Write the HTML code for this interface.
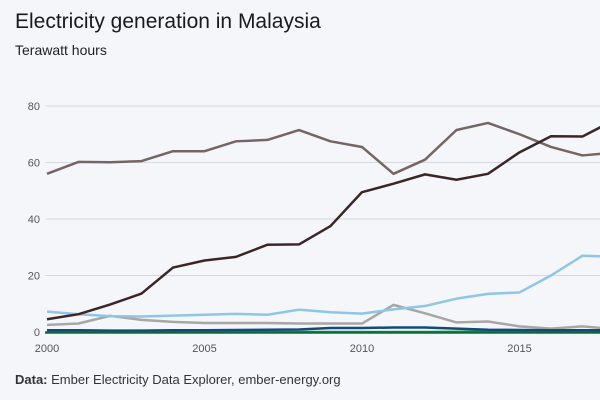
<!DOCTYPE html>
<html><head><meta charset="utf-8"><style>
body{margin:0;width:600px;height:400px;overflow:hidden;background:#f4f6fa;font-family:"Liberation Sans",sans-serif;}
#t{position:absolute;left:15px;top:10px;font-size:21px;color:#1a1a1a;}
#s{position:absolute;left:15px;top:42px;font-size:14px;color:#222;}
#f{position:absolute;left:15px;top:372px;font-size:13px;color:#333;}
svg{position:absolute;left:0;top:0}
</style></head><body>
<div id="t">Electricity generation in Malaysia</div>
<div id="s">Terawatt hours</div>
<div id="f"><b>Data:</b> Ember Electricity Data Explorer, ember-energy.org</div>
<svg id="c" width="600" height="400"></svg>
<script>
const years=[2000,2001,2002,2003,2004,2005,2006,2007,2008,2009,2010,2011,2012,2013,2014,2015,2016,2017,2018];
const gas=[56,60.2,60.1,60.5,64,64,67.5,68,71.5,67.5,65.5,56,61,71.5,74,70,65.5,62.5,63.5];
const coal=[4.5,6.3,9.7,13.6,22.8,25.3,26.6,30.9,31,37.5,49.5,52.5,55.8,53.9,56,63.6,69.3,69.2,75];
const hydro=[7.2,6.3,5.6,5.5,5.8,6.1,6.4,6.1,7.9,7,6.5,8,9.2,11.8,13.5,14,20,27,26.7];
const oil=[2.5,3,5.7,4.3,3.6,3.2,3.2,3.2,3,3,3,9.6,6.6,3.4,3.7,2,1.2,2,1];
const bio=[0.6,0.6,0.5,0.5,0.6,0.6,0.7,0.8,0.9,1.4,1.4,1.6,1.6,1.2,0.8,0.7,0.6,0.6,0.6];
const solar=[0,0,0,0,0,0,0,0,0,0,0,0,0,0.1,0.2,0.3,0.4,0.5,0.6];
const yTicks=[0,20,40,60,80];
const xTicks=[2000,2005,2010,2015];
const svg=document.getElementById('c');const NS='http://www.w3.org/2000/svg';
const x=v=>47+(v-2000)*31.5, y=v=>332-v*2.825;
function mk(t,a){const e=document.createElementNS(NS,t);for(const k in a)e.setAttribute(k,a[k]);svg.appendChild(e);return e;}
yTicks.forEach(v=>{
 const l=mk('line',{x1:45,x2:600,y1:y(v),y2:y(v),stroke:'#d5d9e0','stroke-width':1});
 
 
 const t=mk('text',{x:40,y:y(v)+4,'text-anchor':'end','font-size':11,fill:'#555','font-family':'Liberation Sans'});t.textContent=v;
 
 
});
xTicks.forEach(v=>{
 const t=mk('text',{x:x(v),y:352,'text-anchor':'middle','font-size':11,fill:'#555','font-family':'Liberation Sans'});t.textContent=v;
 
 
});
[[oil,'#a9a6a6','oil'],[hydro,'#8fc6e6','hydro'],[solar,'#2fa84f','solar'],[bio,'#124b7a','bioenergy'],[gas,'#766563','gas'],[coal,'#3b2626','coal']].forEach(([d,c,n])=>{
 const p=mk('polyline',{points:d.map((v,i)=>x(years[i])+','+y(v)).join(' '),fill:'none',stroke:c,'stroke-width':2.5,'stroke-linejoin':'round'});
 
 
});
const b=mk('line',{x1:45,x2:600,y1:332.5,y2:332.5,stroke:'#0b6b3a','stroke-width':2.5});


</script>
</body></html>
